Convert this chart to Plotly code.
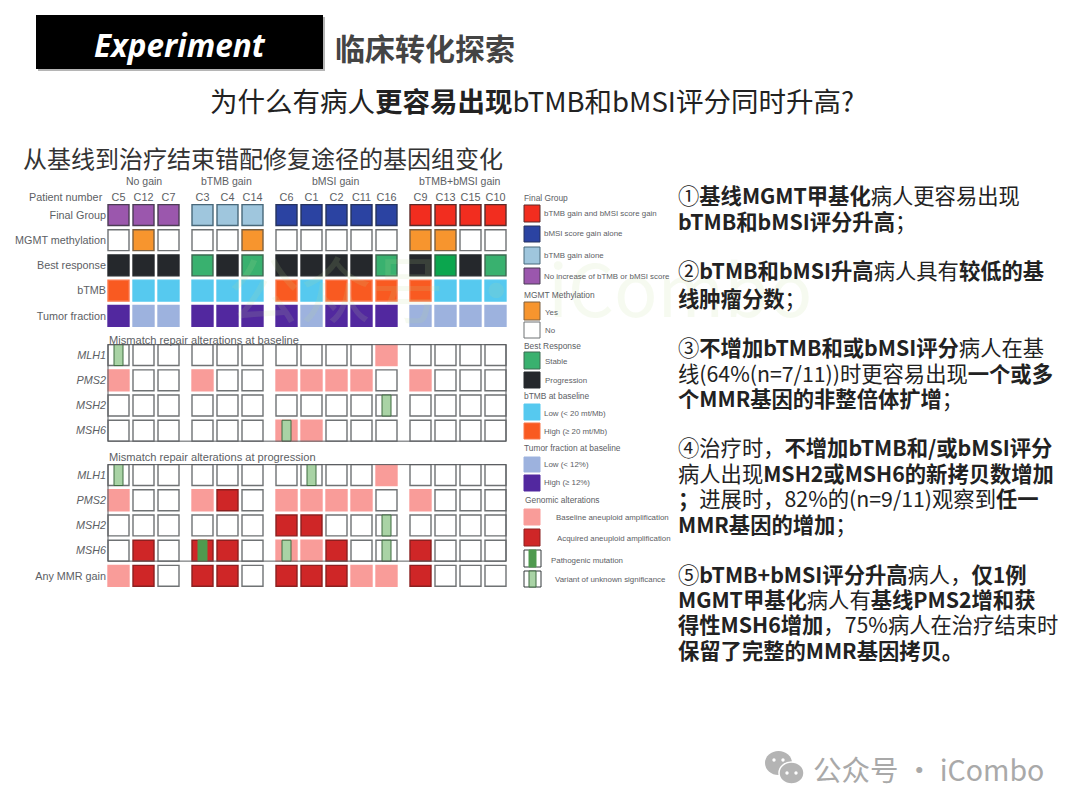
import plotly.graph_objects as go

W, H = 1080, 810
FONT = "Liberation Sans, Arial, sans-serif"
CJK = "Noto Sans CJK SC, sans-serif"
GREY = "#5c6064"

# ---------- data ----------
patient_groups = ["No gain", "bTMB gain", "bMSI gain", "bTMB+bMSI gain"]
patients_by_group = [["C5", "C12", "C7"], ["C3", "C4", "C14"],
                     ["C6", "C1", "C2", "C11", "C16"], ["C9", "C13", "C15", "C10"]]

final_group = list("NNNTTTBBBBBRRRR")
mgmt = list("-Y---Y-----YY--")
best_response = list("PPPSPSPPPPSPGPS")
btmb = list("HLLLLLHLHHHHLLL")
tumor_fraction = list("HLLHHHHLHHHLLLL")

# alteration codes: - none, B baseline amp, A acquired amp, V VUS, P pathogenic (combos allowed)
#                C5   C12  C7   C3    C4   C14  C6    C1   C2   C11  C16  C9   C13  C15  C10
base_mlh1 = ["V",  "-", "-", "-",  "-", "-", "-",  "-", "-", "-", "B", "-", "-", "-", "-"]
base_pms2 = ["B",  "-", "-", "B",  "-", "-", "B",  "B", "B", "B", "-", "B", "-", "-", "-"]
base_msh2 = ["-",  "-", "-", "-",  "-", "-", "-",  "-", "-", "-", "V", "-", "-", "-", "-"]
base_msh6 = ["-",  "-", "-", "-",  "-", "-", "BV", "B", "-", "-", "-", "-", "-", "-", "-"]
prog_mlh1 = ["V",  "-", "-", "-",  "-", "-", "-",  "V", "-", "-", "B", "-", "-", "-", "-"]
prog_pms2 = ["B",  "-", "-", "B",  "A", "-", "B",  "B", "B", "B", "-", "B", "-", "-", "-"]
prog_msh2 = ["-",  "-", "-", "-",  "-", "-", "A",  "A", "-", "-", "V", "-", "-", "-", "-"]
prog_msh6 = ["-",  "A", "-", "AP", "A", "-", "BV", "B", "A", "-", "V", "A", "-", "-", "-"]
any_mmr =   ["B",  "A", "-", "A",  "A", "-", "A",  "A", "A", "B", "B", "A", "-", "-", "-"]

row_labels = ["Final Group", "MGMT methylation", "Best response", "bTMB", "Tumor fraction",
              "<i>MLH1</i>", "<i>PMS2</i>", "<i>MSH2</i>", "<i>MSH6</i>",
              "<i>MLH1</i>", "<i>PMS2</i>", "<i>MSH2</i>", "<i>MSH6</i>", "Any MMR gain"]
row_values = [final_group, mgmt, best_response, btmb, tumor_fraction,
              base_mlh1, base_pms2, base_msh2, base_msh6,
              prog_mlh1, prog_pms2, prog_msh2, prog_msh6, any_mmr]
row_palette = ["final", "mgmt", "resp", "btmb", "tf"] + ["alt"] * 9

# colour, outline per code
EMPTY = ("#ffffff", "#6f7274")
styles = {
    "final": {"R": ("#f22d1f", "#5e2a28"), "B": ("#2b43a2", "#26335f"),
              "T": ("#9fc6dd", "#48687a"), "N": ("#9b57ad", "#4b3c55")},
    "mgmt": {"Y": ("#f7952e", "#7c6040"), "-": EMPTY},
    "resp": {"S": ("#39b16f", "#3d6a52"), "G": ("#0ba64e", "#2d6a48"), "P": ("#25282c", "#25282c")},
    "btmb": {"L": ("#56c9ef", "#56c9ef"), "H": ("#f95a21", "#f9764a")},
    "tf": {"L": ("#9db2de", "#9db2de"), "H": ("#52289f", "#52289f")},
    "alt": {"-": EMPTY, "B": ("#f99c99", "#f99c99"), "A": ("#cf2627", "#8c2020")},
}
stripe_styles = {"V": ("#a9d3a5", "#3f6b40"), "P": ("#4f9a4f", "#4f9a4f")}

# ---------- logical axis layout ----------
X_UNIT, Y_UNIT = 25.0, 25.2     # pixels per logical unit
X_ORIGIN, Y_ORIGIN = 118.5, 215.0
GROUP_GAP = 0.36                # extra x-space between patient groups
SECTION_STARTS = {5: 0.56, 9: 0.76, 13: 0.0}
CELL_W, CELL_H, STRIPE_W = 0.84, 0.83, 0.36

patients, patient_x = [], []
pos = 0.0
for members in patients_by_group:
    for p in members:
        patients.append(p)
        patient_x.append(pos)
        pos += 1
    pos += GROUP_GAP

row_y = []
pos = 0.0
for i in range(len(row_labels)):
    pos += SECTION_STARTS.get(i, 0.0)
    row_y.append(pos)
    pos += 1


def xpx(p):
    return p / W


def ypx(p):
    return 1 - p / H


# ---------- cells ----------
groups = {}
stripes = {}
for r, (values, pal) in enumerate(zip(row_values, row_palette)):
    for c, code in enumerate(values):
        groups.setdefault((pal, code[0]), []).append((patient_x[c], row_y[r]))
        if pal == "alt":
            for ch in code:
                if ch in stripe_styles:
                    stripes.setdefault(ch, []).append((patient_x[c], row_y[r]))

traces = []
for (pal, code), pts in groups.items():
    fill, edge = styles[pal].get(code, EMPTY)
    traces.append(go.Bar(x=[p[0] for p in pts], y=[CELL_H] * len(pts),
                         base=[p[1] - CELL_H / 2 for p in pts], width=CELL_W,
                         marker=dict(color=fill, line=dict(color=edge, width=1.4)),
                         name=f"{pal}:{code}", showlegend=False, hoverinfo="skip"))
for code, pts in stripes.items():
    fill, edge = stripe_styles[code]
    traces.append(go.Bar(x=[p[0] for p in pts], y=[CELL_H] * len(pts),
                         base=[p[1] - CELL_H / 2 for p in pts], width=STRIPE_W,
                         marker=dict(color=fill, line=dict(color=edge, width=1)),
                         name=f"stripe:{code}", showlegend=False, hoverinfo="skip"))

fig = go.Figure(traces)

# axes: chosen so one logical unit has a fixed pixel size
dom_x = (107.0, 510.0)
dom_y = (204.0, 592.0)
xr = [(dom_x[0] - X_ORIGIN) / X_UNIT, (dom_x[1] - X_ORIGIN) / X_UNIT]
yr = [(dom_y[1] - Y_ORIGIN) / Y_UNIT, (dom_y[0] - Y_ORIGIN) / Y_UNIT]

shapes, ann = [], []


def text(x, y, s, size, color=GREY, anchor="left", family=FONT):
    ann.append(dict(x=xpx(x), y=ypx(y), xref="paper", yref="paper", text=s, showarrow=False,
                    xanchor=anchor, yanchor="middle", font=dict(size=size, color=color, family=family),
                    align="left"))


def rect(x0, y0, x1, y1, fill, edge=None, lw=1.0, kind="rect", layer="below"):
    shapes.append(dict(type=kind, xref="paper", yref="paper", x0=xpx(x0), x1=xpx(x1), y0=ypx(y0), y1=ypx(y1),
                       fillcolor=fill, line=dict(color=edge or fill, width=lw if edge else 0), layer=layer))


# section frames in data coordinates
for first, last in ((5, 8), (9, 12)):
    shapes.append(dict(type="rect", xref="x", yref="y", layer="above",
                       x0=patient_x[0] - CELL_W / 2, x1=patient_x[-1] + CELL_W / 2,
                       y0=row_y[first] - CELL_H / 2, y1=row_y[last] + CELL_H / 2,
                       line=dict(color="#5a5d60", width=1), fillcolor="rgba(0,0,0,0)"))

# watermark
text(520, 285, "公众号 · iCombo", 72, "rgba(190,220,150,0.14)", "center", CJK)

# header
rect(38, 17, 325, 71, "#b5b5b5")
rect(36, 15, 323, 69, "#000000")
text(180, 44, "<b><i>Experiment</i></b>", 31.5, "#ffffff", "center", "Open Sans, sans-serif")
text(333, 47, "<b>临床转化探索</b>", 30, "#444444", "left", CJK)
text(532, 100, "为什么有病人<b>更容易出现</b>bTMB和bMSI评分同时升高?", 27.5, "#222222", "center", CJK)
text(21, 157, "从基线到治疗结束错配修复途径的基因组变化", 24, "#333333", "left", CJK)

# chart labels
for name, cx in zip(patient_groups, (144, 226, 335, 460)):
    text(cx, 181, name, 10.5, GREY, "center")
text(105, 197, "Patient number", 10.8, GREY, "right")
text(107, 339.5, "Mismatch repair alterations at baseline", 11.1)
text(107, 457, "Mismatch repair alterations at progression", 11.1)

# legend panel
legend_titles = [(522, 198, "Final Group"), (522, 295, "MGMT Methylation"), (522, 346, "Best Response"),
                 (522, 396, "bTMB at baseline"), (522, 448, "Tumor fraction at baseline"), (523, 500, "Genomic alterations")]
for x, y, t in legend_titles:
    text(x, y, t, 8.4)

legend_items = [
    (205, 222, 542, 213, "bTMB gain and bMSI score gain", *styles["final"]["R"]),
    (226, 242, 542, 234, "bMSI score gain alone", *styles["final"]["B"]),
    (247, 264, 542, 255, "bTMB gain alone", *styles["final"]["T"]),
    (268, 284, 542, 276, "No increase of bTMB or bMSI score", *styles["final"]["N"]),
    (302, 320, 543, 312, "Yes", *styles["mgmt"]["Y"]),
    (322, 338, 543, 330, "No", *EMPTY),
    (352, 369, 543, 361, "Stable", *styles["resp"]["S"]),
    (372, 388, 543, 380, "Progression", *styles["resp"]["P"]),
    (404, 420, 542, 413, "Low (< 20 mt/Mb)", *styles["btmb"]["L"]),
    (423, 439, 542, 431, "High (≥ 20 mt/Mb)", *styles["btmb"]["H"]),
    (457, 472, 542, 464, "Low (< 12%)", *styles["tf"]["L"]),
    (475, 491, 542, 482, "High (≥ 12%)", *styles["tf"]["H"]),
    (509, 525, 554, 517, "Baseline aneuploid amplification", *styles["alt"]["B"]),
    (529, 546, 555, 538, "Acquired aneuploid amplification", *styles["alt"]["A"]),
]
for y0, y1, tx, ty, label, fill, edge in legend_items:
    rect(524, y0, 540, y1, fill, edge, 1)
    text(tx, ty, label, 7.9)
for y0, y1, tx, ty, label, code in [(550, 567, 549, 560, "Pathogenic mutation", "P"),
                                    (571, 587, 553, 579, "Variant of unknown significance", "V")]:
    rect(524, y0, 541, y1, "#ffffff", "#33383a", 1)
    fill, edge = stripe_styles[code]
    rect(529, y0, 536, y1, fill, edge, 1)
    text(tx, ty, label, 7.9)

# right-hand notes
note_lines = [
    (195, "①<b>基线MGMT甲基化</b>病人更容易出现"),
    (221, "<b>bTMB和bMSI评分升高</b>；"),
    (270, "②<b>bTMB和bMSI升高</b>病人具有<b>较低的基</b>"),
    (297, "<b>线肿瘤分数</b>；"),
    (346, "③<b>不增加bTMB和或bMSI评分</b>病人在基"),
    (372, "线(64%(n=7/11))时更容易出现<b>一个或多</b>"),
    (397, "<b>个MMR基因的非整倍体扩增</b>；"),
    (447, "④治疗时，<b>不增加bTMB和/或bMSI评分</b>"),
    (472, "病人出现<b>MSH2或MSH6的新拷贝数增加</b>"),
    (497, "<b>；</b>进展时，82%的(n=9/11)观察到<b>任一</b>"),
    (523, "<b>MMR基因的增加</b>；"),
    (573, "⑤<b>bTMB+bMSI评分升高</b>病人，<b>仅1例</b>"),
    (598, "<b>MGMT甲基化</b>病人有<b>基线PMS2增和获</b>"),
    (623, "<b>得性MSH6增加</b>，75%病人在治疗结束时"),
    (649, "<b>保留了完整的MMR基因拷贝。</b>"),
]
for y, s in note_lines:
    text(676, y, s, 21.3, "#222222", "left", CJK)

# footer mark
ICON = "#b4b4b4"
rect(765, 751, 792, 775, ICON, kind="circle")
rect(779, 762, 804, 784, ICON, "#ffffff", 1.5, kind="circle")
for cx, cy in ((774, 760), (783, 760), (787, 773), (796, 773)):
    rect(cx - 1.7, cy - 1.7, cx + 1.7, cy + 1.7, "#ffffff", kind="circle")
text(811, 768, "公众号 · iCombo", 28.5, "#a9a9a9", "left", CJK)

fig.update_layout(
    width=W, height=H, margin=dict(l=0, r=0, t=0, b=0),
    paper_bgcolor="#ffffff", plot_bgcolor="rgba(0,0,0,0)",
    barmode="overlay", showlegend=False, shapes=shapes, annotations=ann,
    xaxis=dict(domain=[dom_x[0] / W, dom_x[1] / W], range=xr, side="top",
               tickmode="array", tickvals=patient_x, ticktext=patients, ticks="", ticklen=0,
               showgrid=False, zeroline=False, showline=False, automargin=False,
               tickfont=dict(size=10.8, color=GREY, family=FONT)),
    yaxis=dict(domain=[1 - dom_y[1] / H, 1 - dom_y[0] / H], range=yr,
               tickmode="array", tickvals=row_y, ticktext=row_labels, ticks="", ticklen=0,
               showgrid=False, zeroline=False, showline=False, automargin=False,
               tickfont=dict(size=10.8, color=GREY, family=FONT)),
)
fig.write_html("out.html", config={"displayModeBar": False},
               post_script="document.body.style.margin='0';document.body.style.overflow='hidden';")
